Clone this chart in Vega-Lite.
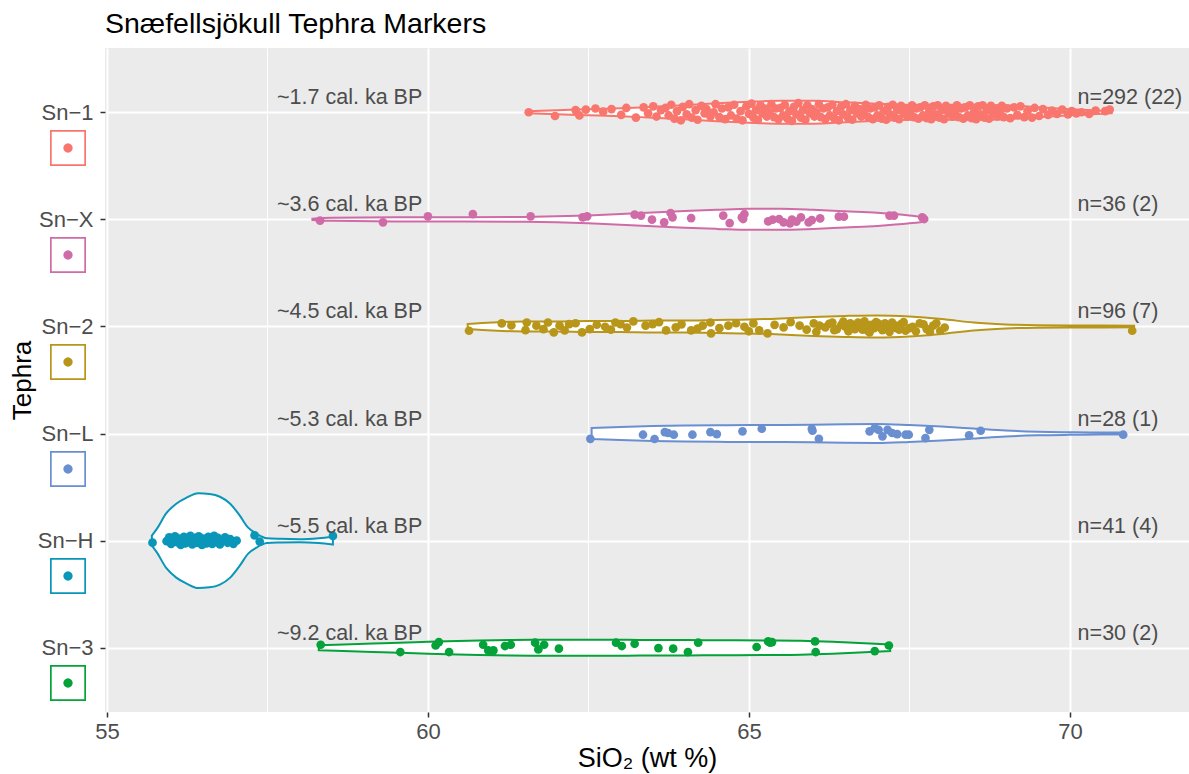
{
  "$schema": "https://vega.github.io/schema/vega-lite/v6.json",
  "width": 1084,
  "height": 664,
  "autosize": {"type": "none"},
  "padding": {"left": 105, "top": 48, "right": 0, "bottom": 62},
  "background": "white",
  "config": {
    "font": "Liberation Sans",
    "view": {"fill": "#EBEBEB", "stroke": null}
  },
  "title": {"text": "Snæfellsjökull Tephra Markers", "anchor": "start", "frame": "group", "fontSize": 28.5, "fontWeight": "normal", "color": "black", "offset": 10},
  "datasets": {
    "violin": [
      {"t":"Sn-1","x":61.55,"y":5.991,"hi":6.009},{"t":"Sn-1","x":62.0,"y":5.981,"hi":6.019},{"t":"Sn-1","x":62.5,"y":5.972,"hi":6.028},{"t":"Sn-1","x":63.0,"y":5.963,"hi":6.037},{"t":"Sn-1","x":63.5,"y":5.949,"hi":6.051},{"t":"Sn-1","x":64.0,"y":5.935,"hi":6.065},{"t":"Sn-1","x":64.5,"y":5.916,"hi":6.084},{"t":"Sn-1","x":65.0,"y":5.902,"hi":6.098},{"t":"Sn-1","x":65.5,"y":5.893,"hi":6.107},{"t":"Sn-1","x":66.0,"y":5.893,"hi":6.107},{"t":"Sn-1","x":66.5,"y":5.907,"hi":6.093},{"t":"Sn-1","x":67.0,"y":5.921,"hi":6.079},{"t":"Sn-1","x":67.5,"y":5.93,"hi":6.07},{"t":"Sn-1","x":68.0,"y":5.93,"hi":6.07},{"t":"Sn-1","x":68.5,"y":5.93,"hi":6.07},{"t":"Sn-1","x":69.0,"y":5.935,"hi":6.065},{"t":"Sn-1","x":69.5,"y":5.953,"hi":6.047},{"t":"Sn-1","x":70.0,"y":5.972,"hi":6.028},{"t":"Sn-1","x":70.5,"y":5.986,"hi":6.014},{"t":"Sn-1","x":70.65,"y":5.991,"hi":6.009},
      {"t":"Sn-X","x":58.2,"y":4.995,"hi":5.005},{"t":"Sn-X","x":58.5,"y":4.986,"hi":5.014},{"t":"Sn-X","x":59.5,"y":4.981,"hi":5.019},{"t":"Sn-X","x":60.5,"y":4.981,"hi":5.019},{"t":"Sn-X","x":61.5,"y":4.977,"hi":5.023},{"t":"Sn-X","x":62.0,"y":4.972,"hi":5.028},{"t":"Sn-X","x":62.5,"y":4.963,"hi":5.037},{"t":"Sn-X","x":63.0,"y":4.949,"hi":5.051},{"t":"Sn-X","x":63.5,"y":4.935,"hi":5.065},{"t":"Sn-X","x":64.0,"y":4.921,"hi":5.079},{"t":"Sn-X","x":64.5,"y":4.911,"hi":5.089},{"t":"Sn-X","x":65.0,"y":4.902,"hi":5.098},{"t":"Sn-X","x":65.5,"y":4.902,"hi":5.098},{"t":"Sn-X","x":66.0,"y":4.911,"hi":5.089},{"t":"Sn-X","x":66.5,"y":4.925,"hi":5.075},{"t":"Sn-X","x":67.0,"y":4.939,"hi":5.061},{"t":"Sn-X","x":67.5,"y":4.963,"hi":5.037},{"t":"Sn-X","x":67.75,"y":4.981,"hi":5.019},
      {"t":"Sn-2","x":60.62,"y":3.977,"hi":4.023},{"t":"Sn-2","x":61.0,"y":3.963,"hi":4.037},{"t":"Sn-2","x":61.5,"y":3.953,"hi":4.047},{"t":"Sn-2","x":62.0,"y":3.953,"hi":4.047},{"t":"Sn-2","x":62.5,"y":3.949,"hi":4.051},{"t":"Sn-2","x":63.0,"y":3.949,"hi":4.051},{"t":"Sn-2","x":63.5,"y":3.944,"hi":4.056},{"t":"Sn-2","x":64.0,"y":3.944,"hi":4.056},{"t":"Sn-2","x":64.5,"y":3.939,"hi":4.061},{"t":"Sn-2","x":65.0,"y":3.935,"hi":4.065},{"t":"Sn-2","x":65.5,"y":3.925,"hi":4.075},{"t":"Sn-2","x":66.0,"y":3.911,"hi":4.089},{"t":"Sn-2","x":66.5,"y":3.902,"hi":4.098},{"t":"Sn-2","x":67.0,"y":3.897,"hi":4.103},{"t":"Sn-2","x":67.5,"y":3.907,"hi":4.093},{"t":"Sn-2","x":68.0,"y":3.93,"hi":4.07},{"t":"Sn-2","x":68.5,"y":3.963,"hi":4.037},{"t":"Sn-2","x":69.0,"y":3.981,"hi":4.019},{"t":"Sn-2","x":69.5,"y":3.989,"hi":4.011},{"t":"Sn-2","x":70.0,"y":3.991,"hi":4.009},{"t":"Sn-2","x":70.5,"y":3.991,"hi":4.009},{"t":"Sn-2","x":71.0,"y":3.993,"hi":4.007},
      {"t":"Sn-L","x":62.55,"y":2.949,"hi":3.051},{"t":"Sn-L","x":63.0,"y":2.939,"hi":3.061},{"t":"Sn-L","x":63.5,"y":2.93,"hi":3.07},{"t":"Sn-L","x":64.0,"y":2.925,"hi":3.075},{"t":"Sn-L","x":64.5,"y":2.923,"hi":3.077},{"t":"Sn-L","x":65.0,"y":2.921,"hi":3.079},{"t":"Sn-L","x":65.5,"y":2.921,"hi":3.079},{"t":"Sn-L","x":66.0,"y":2.919,"hi":3.081},{"t":"Sn-L","x":66.5,"y":2.913,"hi":3.087},{"t":"Sn-L","x":67.0,"y":2.911,"hi":3.089},{"t":"Sn-L","x":67.5,"y":2.921,"hi":3.079},{"t":"Sn-L","x":68.0,"y":2.935,"hi":3.065},{"t":"Sn-L","x":68.5,"y":2.953,"hi":3.047},{"t":"Sn-L","x":69.0,"y":2.972,"hi":3.028},{"t":"Sn-L","x":69.5,"y":2.983,"hi":3.017},{"t":"Sn-L","x":70.0,"y":2.988,"hi":3.012},{"t":"Sn-L","x":70.5,"y":2.991,"hi":3.009},{"t":"Sn-L","x":70.85,"y":2.991,"hi":3.009},
      {"t":"Sn-H","x":55.7,"y":1.953,"hi":2.047},{"t":"Sn-H","x":55.78,"y":1.888,"hi":2.112},{"t":"Sn-H","x":55.92,"y":1.748,"hi":2.252},{"t":"Sn-H","x":56.08,"y":1.655,"hi":2.345},{"t":"Sn-H","x":56.24,"y":1.599,"hi":2.401},{"t":"Sn-H","x":56.42,"y":1.557,"hi":2.443},{"t":"Sn-H","x":56.6,"y":1.564,"hi":2.436},{"t":"Sn-H","x":56.76,"y":1.59,"hi":2.41},{"t":"Sn-H","x":56.92,"y":1.655,"hi":2.345},{"t":"Sn-H","x":57.07,"y":1.767,"hi":2.233},{"t":"Sn-H","x":57.2,"y":1.879,"hi":2.121},{"t":"Sn-H","x":57.33,"y":1.935,"hi":2.065},{"t":"Sn-H","x":57.49,"y":1.977,"hi":2.023},{"t":"Sn-H","x":57.7,"y":1.983,"hi":2.017},{"t":"Sn-H","x":58.0,"y":1.986,"hi":2.014},{"t":"Sn-H","x":58.3,"y":1.977,"hi":2.023},{"t":"Sn-H","x":58.52,"y":1.963,"hi":2.037},
      {"t":"Sn-3","x":58.3,"y":0.977,"hi":1.023},{"t":"Sn-3","x":58.8,"y":0.967,"hi":1.033},{"t":"Sn-3","x":59.3,"y":0.958,"hi":1.042},{"t":"Sn-3","x":59.8,"y":0.949,"hi":1.051},{"t":"Sn-3","x":60.3,"y":0.939,"hi":1.061},{"t":"Sn-3","x":60.8,"y":0.932,"hi":1.068},{"t":"Sn-3","x":61.3,"y":0.927,"hi":1.073},{"t":"Sn-3","x":61.8,"y":0.925,"hi":1.075},{"t":"Sn-3","x":62.3,"y":0.925,"hi":1.075},{"t":"Sn-3","x":62.8,"y":0.925,"hi":1.075},{"t":"Sn-3","x":63.3,"y":0.927,"hi":1.073},{"t":"Sn-3","x":63.8,"y":0.928,"hi":1.072},{"t":"Sn-3","x":64.3,"y":0.929,"hi":1.071},{"t":"Sn-3","x":64.8,"y":0.93,"hi":1.07},{"t":"Sn-3","x":65.3,"y":0.932,"hi":1.068},{"t":"Sn-3","x":65.8,"y":0.935,"hi":1.065},{"t":"Sn-3","x":66.3,"y":0.944,"hi":1.056},{"t":"Sn-3","x":66.8,"y":0.958,"hi":1.042},{"t":"Sn-3","x":67.2,"y":0.969,"hi":1.031}
    ],
    "pts": [
      {"t":"Sn-1","x":61.57,"y":6.0},{"t":"Sn-1","x":61.98,"y":5.965},{"t":"Sn-1","x":62.3,"y":6.02},{"t":"Sn-1","x":62.36,"y":5.97},{"t":"Sn-1","x":62.46,"y":6.025},{"t":"Sn-1","x":62.61,"y":6.035},{"t":"Sn-1","x":62.73,"y":6.005},{"t":"Sn-1","x":62.86,"y":6.03},{"t":"Sn-1","x":63.01,"y":5.975},{"t":"Sn-1","x":63.09,"y":6.04},{"t":"Sn-1","x":63.24,"y":5.95},{"t":"Sn-1","x":63.36,"y":6.045},{"t":"Sn-1","x":63.43,"y":5.99},{"t":"Sn-1","x":63.51,"y":6.055},{"t":"Sn-1","x":63.56,"y":5.96},{"t":"Sn-1","x":63.63,"y":6.02},
      {"t":"Sn-1","x":63.7,"y":6.04},{"t":"Sn-1","x":63.75,"y":5.97},{"t":"Sn-1","x":63.79,"y":6.07},{"t":"Sn-1","x":63.84,"y":5.94},{"t":"Sn-1","x":63.88,"y":6.01},{"t":"Sn-1","x":63.94,"y":5.925},{"t":"Sn-1","x":63.97,"y":6.05},{"t":"Sn-1","x":64.03,"y":5.98},{"t":"Sn-1","x":64.07,"y":6.075},{"t":"Sn-1","x":64.11,"y":5.95},{"t":"Sn-1","x":64.17,"y":6.02},{"t":"Sn-1","x":64.2,"y":5.93},{"t":"Sn-1","x":64.26,"y":6.06},{"t":"Sn-1","x":64.31,"y":5.99},{"t":"Sn-1","x":64.34,"y":6.03},{"t":"Sn-1","x":64.4,"y":5.96},{"t":"Sn-1","x":64.45,"y":6.0},{"t":"Sn-1","x":64.48,"y":6.075},{"t":"Sn-1","x":64.54,"y":5.955},{"t":"Sn-1","x":64.58,"y":6.035},{"t":"Sn-1","x":64.63,"y":5.935},{"t":"Sn-1","x":64.68,"y":6.045},{"t":"Sn-1","x":64.72,"y":5.97},{"t":"Sn-1","x":64.77,"y":6.07},{"t":"Sn-1","x":64.81,"y":5.94},{"t":"Sn-1","x":64.87,"y":6.01},{"t":"Sn-1","x":64.9,"y":5.925},{"t":"Sn-1","x":64.96,"y":6.055},
      {"t":"Sn-1","x":65.0,"y":5.985},{"t":"Sn-1","x":65.04,"y":6.08},{"t":"Sn-1","x":65.07,"y":5.95},{"t":"Sn-1","x":65.11,"y":6.02},{"t":"Sn-1","x":65.14,"y":5.93},{"t":"Sn-1","x":65.18,"y":6.065},{"t":"Sn-1","x":65.21,"y":5.99},{"t":"Sn-1","x":65.25,"y":6.035},{"t":"Sn-1","x":65.28,"y":5.96},{"t":"Sn-1","x":65.32,"y":6.0},{"t":"Sn-1","x":65.35,"y":6.075},{"t":"Sn-1","x":65.39,"y":5.955},{"t":"Sn-1","x":65.42,"y":6.035},{"t":"Sn-1","x":65.46,"y":5.935},{"t":"Sn-1","x":65.49,"y":6.04},{"t":"Sn-1","x":65.53,"y":5.97},{"t":"Sn-1","x":65.56,"y":6.07},{"t":"Sn-1","x":65.6,"y":5.94},{"t":"Sn-1","x":65.63,"y":6.01},{"t":"Sn-1","x":65.67,"y":5.92},{"t":"Sn-1","x":65.7,"y":6.05},{"t":"Sn-1","x":65.74,"y":5.98},{"t":"Sn-1","x":65.77,"y":6.085},{"t":"Sn-1","x":65.81,"y":5.95},{"t":"Sn-1","x":65.84,"y":6.02},{"t":"Sn-1","x":65.88,"y":5.93},{"t":"Sn-1","x":65.91,"y":6.065},{"t":"Sn-1","x":65.95,"y":5.99},{"t":"Sn-1","x":65.98,"y":6.03},{"t":"Sn-1","x":66.02,"y":5.96},{"t":"Sn-1","x":66.05,"y":6.0},{"t":"Sn-1","x":66.09,"y":6.075},{"t":"Sn-1","x":66.12,"y":5.955},{"t":"Sn-1","x":66.16,"y":6.035},{"t":"Sn-1","x":66.19,"y":5.935},{"t":"Sn-1","x":66.23,"y":6.045},{"t":"Sn-1","x":66.26,"y":5.97},{"t":"Sn-1","x":66.3,"y":6.07},{"t":"Sn-1","x":66.33,"y":5.94},{"t":"Sn-1","x":66.37,"y":6.01},{"t":"Sn-1","x":66.4,"y":5.925},{"t":"Sn-1","x":66.44,"y":6.055},{"t":"Sn-1","x":66.47,"y":5.98},{"t":"Sn-1","x":66.51,"y":6.075},{"t":"Sn-1","x":66.54,"y":5.95},{"t":"Sn-1","x":66.58,"y":6.02},{"t":"Sn-1","x":66.61,"y":5.93},{"t":"Sn-1","x":66.65,"y":6.06},{"t":"Sn-1","x":66.68,"y":5.99},{"t":"Sn-1","x":66.72,"y":6.03},{"t":"Sn-1","x":66.75,"y":5.96},{"t":"Sn-1","x":66.79,"y":6.0},{"t":"Sn-1","x":66.82,"y":6.07},{"t":"Sn-1","x":66.86,"y":5.955},{"t":"Sn-1","x":66.89,"y":6.035},{"t":"Sn-1","x":66.93,"y":5.935},{"t":"Sn-1","x":66.96,"y":6.045},
      {"t":"Sn-1","x":67.0,"y":5.97},{"t":"Sn-1","x":67.03,"y":6.065},{"t":"Sn-1","x":67.07,"y":5.94},{"t":"Sn-1","x":67.1,"y":6.01},{"t":"Sn-1","x":67.14,"y":5.93},{"t":"Sn-1","x":67.17,"y":6.05},{"t":"Sn-1","x":67.2,"y":5.98},{"t":"Sn-1","x":67.24,"y":6.07},{"t":"Sn-1","x":67.27,"y":5.95},{"t":"Sn-1","x":67.31,"y":6.02},{"t":"Sn-1","x":67.34,"y":5.935},{"t":"Sn-1","x":67.37,"y":6.06},{"t":"Sn-1","x":67.41,"y":5.99},{"t":"Sn-1","x":67.44,"y":6.03},{"t":"Sn-1","x":67.47,"y":5.96},{"t":"Sn-1","x":67.51,"y":6.0},{"t":"Sn-1","x":67.54,"y":6.065},{"t":"Sn-1","x":67.57,"y":5.955},{"t":"Sn-1","x":67.61,"y":6.035},{"t":"Sn-1","x":67.64,"y":5.94},{"t":"Sn-1","x":67.67,"y":6.045},{"t":"Sn-1","x":67.71,"y":5.97},{"t":"Sn-1","x":67.74,"y":6.065},{"t":"Sn-1","x":67.77,"y":5.945},{"t":"Sn-1","x":67.81,"y":6.01},{"t":"Sn-1","x":67.84,"y":5.935},{"t":"Sn-1","x":67.87,"y":6.055},{"t":"Sn-1","x":67.91,"y":5.98},{"t":"Sn-1","x":67.94,"y":6.065},{"t":"Sn-1","x":67.97,"y":5.95},{"t":"Sn-1","x":68.01,"y":6.02},{"t":"Sn-1","x":68.04,"y":5.935},{"t":"Sn-1","x":68.07,"y":6.06},{"t":"Sn-1","x":68.11,"y":5.99},{"t":"Sn-1","x":68.14,"y":6.03},{"t":"Sn-1","x":68.17,"y":5.96},{"t":"Sn-1","x":68.21,"y":6.0},{"t":"Sn-1","x":68.24,"y":6.065},{"t":"Sn-1","x":68.27,"y":5.955},{"t":"Sn-1","x":68.31,"y":6.035},{"t":"Sn-1","x":68.34,"y":5.94},{"t":"Sn-1","x":68.37,"y":6.045},{"t":"Sn-1","x":68.41,"y":5.97},{"t":"Sn-1","x":68.44,"y":6.065},{"t":"Sn-1","x":68.47,"y":5.945},{"t":"Sn-1","x":68.51,"y":6.01},{"t":"Sn-1","x":68.54,"y":5.935},{"t":"Sn-1","x":68.57,"y":6.055},{"t":"Sn-1","x":68.61,"y":5.98},{"t":"Sn-1","x":68.64,"y":6.065},{"t":"Sn-1","x":68.67,"y":5.95},{"t":"Sn-1","x":68.71,"y":6.02},{"t":"Sn-1","x":68.74,"y":5.94},{"t":"Sn-1","x":68.77,"y":6.06},{"t":"Sn-1","x":68.81,"y":5.99},{"t":"Sn-1","x":68.84,"y":6.03},{"t":"Sn-1","x":68.87,"y":5.96},{"t":"Sn-1","x":68.91,"y":6.0},{"t":"Sn-1","x":68.94,"y":6.06},{"t":"Sn-1","x":68.97,"y":5.955},
      {"t":"Sn-1","x":69.02,"y":6.035},{"t":"Sn-1","x":69.07,"y":5.945},{"t":"Sn-1","x":69.13,"y":6.045},{"t":"Sn-1","x":69.18,"y":5.975},{"t":"Sn-1","x":69.23,"y":6.055},{"t":"Sn-1","x":69.29,"y":5.955},{"t":"Sn-1","x":69.34,"y":6.01},{"t":"Sn-1","x":69.41,"y":5.95},{"t":"Sn-1","x":69.45,"y":6.04},{"t":"Sn-1","x":69.52,"y":5.965},{"t":"Sn-1","x":69.58,"y":6.03},{"t":"Sn-1","x":69.66,"y":5.975},{"t":"Sn-1","x":69.72,"y":6.015},{"t":"Sn-1","x":69.8,"y":5.985},{"t":"Sn-1","x":69.88,"y":6.025},{"t":"Sn-1","x":69.97,"y":5.98},{"t":"Sn-1","x":70.03,"y":6.01},{"t":"Sn-1","x":70.1,"y":5.99},{"t":"Sn-1","x":70.18,"y":6.0},{"t":"Sn-1","x":70.3,"y":5.985},{"t":"Sn-1","x":70.4,"y":6.015},{"t":"Sn-1","x":70.55,"y":6.01},{"t":"Sn-1","x":70.62,"y":6.025},
      {"t":"Sn-X","x":58.32,"y":4.988},{"t":"Sn-X","x":59.3,"y":4.972},{"t":"Sn-X","x":60.0,"y":5.028},{"t":"Sn-X","x":60.7,"y":5.049},{"t":"Sn-X","x":61.6,"y":5.028},{"t":"Sn-X","x":62.41,"y":5.019},{"t":"Sn-X","x":62.48,"y":5.028},{"t":"Sn-X","x":63.22,"y":5.044},{"t":"Sn-X","x":63.32,"y":5.035},{"t":"Sn-X","x":63.49,"y":4.997},{"t":"Sn-X","x":63.68,"y":4.972},{"t":"Sn-X","x":63.78,"y":5.059},{"t":"Sn-X","x":63.81,"y":5.019},{"t":"Sn-X","x":64.1,"y":5.012},{"t":"Sn-X","x":64.6,"y":5.035},{"t":"Sn-X","x":64.7,"y":4.965},{"t":"Sn-X","x":64.89,"y":5.019},{"t":"Sn-X","x":64.93,"y":5.049},{"t":"Sn-X","x":65.3,"y":4.981},{"t":"Sn-X","x":65.37,"y":4.997},{"t":"Sn-X","x":65.47,"y":5.003},{"t":"Sn-X","x":65.54,"y":4.972},{"t":"Sn-X","x":65.67,"y":4.997},{"t":"Sn-X","x":65.74,"y":4.979},{"t":"Sn-X","x":65.81,"y":5.019},{"t":"Sn-X","x":65.93,"y":4.972},{"t":"Sn-X","x":65.98,"y":4.993},{"t":"Sn-X","x":66.11,"y":5.009},{"t":"Sn-X","x":66.4,"y":5.025},{"t":"Sn-X","x":66.48,"y":5.025},{"t":"Sn-X","x":67.19,"y":5.035},{"t":"Sn-X","x":67.26,"y":5.035},{"t":"Sn-X","x":67.7,"y":5.019},{"t":"Sn-X","x":67.73,"y":5.003},{"t":"Sn-X","x":64.91,"y":5.003},{"t":"Sn-X","x":65.64,"y":4.963},
      {"t":"Sn-2","x":60.64,"y":3.96},{"t":"Sn-2","x":61.15,"y":4.028},{"t":"Sn-2","x":61.52,"y":3.965},{"t":"Sn-2","x":61.54,"y":4.037},{"t":"Sn-2","x":61.69,"y":4.007},{"t":"Sn-2","x":61.87,"y":4.037},{"t":"Sn-2","x":61.96,"y":3.944},{"t":"Sn-2","x":62.05,"y":4.007},{"t":"Sn-2","x":62.13,"y":3.963},{"t":"Sn-2","x":62.2,"y":4.021},{"t":"Sn-2","x":62.4,"y":3.944},{"t":"Sn-2","x":62.52,"y":3.975},{"t":"Sn-2","x":62.63,"y":4.016},{"t":"Sn-2","x":62.76,"y":3.997},{"t":"Sn-2","x":62.92,"y":4.037},{"t":"Sn-2","x":63.0,"y":4.021},{"t":"Sn-2","x":63.2,"y":4.047},{"t":"Sn-2","x":63.39,"y":4.007},{"t":"Sn-2","x":63.5,"y":4.021},{"t":"Sn-2","x":63.71,"y":3.963},{"t":"Sn-2","x":63.86,"y":3.991},{"t":"Sn-2","x":64.1,"y":3.963},{"t":"Sn-2","x":64.28,"y":4.007},{"t":"Sn-2","x":64.4,"y":4.037},{"t":"Sn-2","x":64.41,"y":3.935},{"t":"Sn-2","x":64.54,"y":3.984},{"t":"Sn-2","x":64.68,"y":4.007},{"t":"Sn-2","x":64.93,"y":3.997},{"t":"Sn-2","x":65.07,"y":4.028},{"t":"Sn-2","x":65.16,"y":3.963},{"t":"Sn-2","x":65.29,"y":3.935},{"t":"Sn-2","x":65.54,"y":3.991},{"t":"Sn-2","x":65.79,"y":4.007},{"t":"Sn-2","x":66.01,"y":4.028},{"t":"Sn-2","x":66.1,"y":4.007},{"t":"Sn-2","x":66.19,"y":3.991},{"t":"Sn-2","x":66.3,"y":4.037},{"t":"Sn-2","x":66.37,"y":3.975},{"t":"Sn-2","x":66.44,"y":4.016},{"t":"Sn-2","x":66.5,"y":3.997},{"t":"Sn-2","x":66.58,"y":4.028},{"t":"Sn-2","x":66.65,"y":3.975},{"t":"Sn-2","x":66.73,"y":4.007},{"t":"Sn-2","x":66.8,"y":4.047},{"t":"Sn-2","x":66.85,"y":3.96},{"t":"Sn-2","x":66.9,"y":4.016},{"t":"Sn-2","x":66.95,"y":3.984},{"t":"Sn-2","x":67.01,"y":4.028},{"t":"Sn-2","x":67.08,"y":3.965},{"t":"Sn-2","x":67.16,"y":4.007},{"t":"Sn-2","x":67.23,"y":4.037},{"t":"Sn-2","x":67.3,"y":3.984},{"t":"Sn-2","x":67.37,"y":4.021},{"t":"Sn-2","x":67.44,"y":3.96},{"t":"Sn-2","x":67.55,"y":3.997},{"t":"Sn-2","x":67.66,"y":4.028},{"t":"Sn-2","x":67.77,"y":3.975},{"t":"Sn-2","x":67.87,"y":4.007},{"t":"Sn-2","x":67.98,"y":3.96},{"t":"Sn-2","x":70.97,"y":3.96},
      {"t":"Sn-2","x":61.3,"y":4.01},{"t":"Sn-2","x":61.8,"y":3.975},{"t":"Sn-2","x":62.3,"y":4.03},{"t":"Sn-2","x":62.85,"y":3.97},{"t":"Sn-2","x":63.1,"y":3.99},{"t":"Sn-2","x":63.6,"y":4.04},{"t":"Sn-2","x":63.95,"y":4.02},{"t":"Sn-2","x":64.2,"y":3.98},{"t":"Sn-2","x":64.8,"y":4.03},{"t":"Sn-2","x":65.0,"y":3.955},{"t":"Sn-2","x":65.4,"y":4.015},{"t":"Sn-2","x":65.65,"y":4.04},{"t":"Sn-2","x":65.9,"y":3.97},{"t":"Sn-2","x":66.05,"y":3.95},{"t":"Sn-2","x":66.25,"y":4.025},{"t":"Sn-2","x":66.33,"y":3.965},{"t":"Sn-2","x":66.47,"y":4.045},{"t":"Sn-2","x":66.55,"y":3.955},{"t":"Sn-2","x":66.62,"y":4.005},{"t":"Sn-2","x":66.7,"y":4.035},{"t":"Sn-2","x":66.77,"y":3.97},{"t":"Sn-2","x":66.83,"y":4.01},{"t":"Sn-2","x":66.88,"y":3.945},{"t":"Sn-2","x":66.98,"y":4.04},{"t":"Sn-2","x":67.04,"y":3.99},{"t":"Sn-2","x":67.12,"y":4.03},{"t":"Sn-2","x":67.19,"y":3.95},{"t":"Sn-2","x":67.27,"y":4.01},{"t":"Sn-2","x":67.34,"y":3.97},{"t":"Sn-2","x":67.41,"y":4.04},{"t":"Sn-2","x":67.5,"y":3.985},{"t":"Sn-2","x":67.6,"y":3.955},{"t":"Sn-2","x":67.72,"y":4.02},{"t":"Sn-2","x":67.82,"y":3.95},{"t":"Sn-2","x":67.92,"y":4.03},{"t":"Sn-2","x":68.05,"y":3.99},
      {"t":"Sn-L","x":62.53,"y":2.951},{"t":"Sn-L","x":63.35,"y":2.989},{"t":"Sn-L","x":63.53,"y":2.949},{"t":"Sn-L","x":63.69,"y":3.014},{"t":"Sn-L","x":63.74,"y":3.005},{"t":"Sn-L","x":63.83,"y":2.989},{"t":"Sn-L","x":64.12,"y":2.989},{"t":"Sn-L","x":64.4,"y":3.014},{"t":"Sn-L","x":64.5,"y":2.995},{"t":"Sn-L","x":64.9,"y":3.021},{"t":"Sn-L","x":65.2,"y":3.045},{"t":"Sn-L","x":65.98,"y":3.045},{"t":"Sn-L","x":65.99,"y":3.026},{"t":"Sn-L","x":66.09,"y":2.951},{"t":"Sn-L","x":66.88,"y":3.021},{"t":"Sn-L","x":66.96,"y":3.051},{"t":"Sn-L","x":67.02,"y":3.035},{"t":"Sn-L","x":67.08,"y":2.974},{"t":"Sn-L","x":67.16,"y":3.035},{"t":"Sn-L","x":67.23,"y":3.005},{"t":"Sn-L","x":67.31,"y":2.995},{"t":"Sn-L","x":67.44,"y":2.989},{"t":"Sn-L","x":67.49,"y":2.989},{"t":"Sn-L","x":67.75,"y":2.958},{"t":"Sn-L","x":67.81,"y":3.035},{"t":"Sn-L","x":68.43,"y":2.983},{"t":"Sn-L","x":68.61,"y":3.026},{"t":"Sn-L","x":70.83,"y":2.989},
      {"t":"Sn-H","x":55.71,"y":1.981},{"t":"Sn-H","x":57.3,"y":2.049},{"t":"Sn-H","x":57.38,"y":1.991},{"t":"Sn-H","x":58.52,"y":2.044},{"t":"Sn-H","x":55.93,"y":1.995},{"t":"Sn-H","x":55.97,"y":2.03},{"t":"Sn-H","x":56.0,"y":1.97},{"t":"Sn-H","x":56.03,"y":2.01},{"t":"Sn-H","x":56.06,"y":2.04},{"t":"Sn-H","x":56.09,"y":1.985},{"t":"Sn-H","x":56.12,"y":2.02},{"t":"Sn-H","x":56.15,"y":1.96},{"t":"Sn-H","x":56.17,"y":2.0},{"t":"Sn-H","x":56.2,"y":2.035},{"t":"Sn-H","x":56.22,"y":1.975},{"t":"Sn-H","x":56.25,"y":2.015},{"t":"Sn-H","x":56.28,"y":1.99},{"t":"Sn-H","x":56.3,"y":2.045},{"t":"Sn-H","x":56.33,"y":1.965},{"t":"Sn-H","x":56.35,"y":2.005},{"t":"Sn-H","x":56.38,"y":2.025},{"t":"Sn-H","x":56.4,"y":1.98},{"t":"Sn-H","x":56.43,"y":2.04},{"t":"Sn-H","x":56.45,"y":1.995},{"t":"Sn-H","x":56.48,"y":1.96},{"t":"Sn-H","x":56.5,"y":2.02},{"t":"Sn-H","x":56.53,"y":2.0},{"t":"Sn-H","x":56.55,"y":1.975},{"t":"Sn-H","x":56.58,"y":2.035},{"t":"Sn-H","x":56.61,"y":2.01},{"t":"Sn-H","x":56.64,"y":1.97},{"t":"Sn-H","x":56.67,"y":2.045},{"t":"Sn-H","x":56.7,"y":1.99},{"t":"Sn-H","x":56.73,"y":2.025},{"t":"Sn-H","x":56.76,"y":1.965},{"t":"Sn-H","x":56.8,"y":2.005},{"t":"Sn-H","x":56.84,"y":2.03},{"t":"Sn-H","x":56.88,"y":1.98},{"t":"Sn-H","x":56.92,"y":2.015},{"t":"Sn-H","x":56.97,"y":1.97},{"t":"Sn-H","x":57.02,"y":2.0},
      {"t":"Sn-3","x":58.33,"y":1.028},{"t":"Sn-3","x":59.57,"y":0.96},{"t":"Sn-3","x":60.12,"y":1.021},{"t":"Sn-3","x":60.17,"y":1.053},{"t":"Sn-3","x":60.33,"y":0.96},{"t":"Sn-3","x":60.86,"y":1.028},{"t":"Sn-3","x":60.94,"y":0.975},{"t":"Sn-3","x":61.02,"y":0.975},{"t":"Sn-3","x":61.2,"y":1.016},{"t":"Sn-3","x":61.29,"y":1.028},{"t":"Sn-3","x":61.67,"y":1.047},{"t":"Sn-3","x":61.72,"y":0.984},{"t":"Sn-3","x":61.81,"y":1.028},{"t":"Sn-3","x":62.04,"y":0.991},{"t":"Sn-3","x":62.93,"y":1.047},{"t":"Sn-3","x":63.02,"y":1.016},{"t":"Sn-3","x":63.22,"y":1.037},{"t":"Sn-3","x":63.59,"y":0.997},{"t":"Sn-3","x":63.82,"y":0.991},{"t":"Sn-3","x":64.05,"y":0.96},{"t":"Sn-3","x":64.21,"y":1.047},{"t":"Sn-3","x":65.12,"y":1.007},{"t":"Sn-3","x":65.3,"y":1.059},{"t":"Sn-3","x":65.36,"y":1.053},{"t":"Sn-3","x":66.03,"y":1.059},{"t":"Sn-3","x":66.04,"y":0.96},{"t":"Sn-3","x":66.96,"y":0.969},{"t":"Sn-3","x":67.18,"y":1.021},{"t":"Sn-3","x":61.0,"y":0.963},{"t":"Sn-3","x":65.33,"y":1.047}
    ],
    "labels": [
      {"y":6,"age":"~1.7 cal. ka BP","n":"n=292 (22)"},
      {"y":5,"age":"~3.6 cal. ka BP","n":"n=36 (2)"},
      {"y":4,"age":"~4.5 cal. ka BP","n":"n=96 (7)"},
      {"y":3,"age":"~5.3 cal. ka BP","n":"n=28 (1)"},
      {"y":2,"age":"~5.5 cal. ka BP","n":"n=41 (4)"},
      {"y":1,"age":"~9.2 cal. ka BP","n":"n=30 (2)"}
    ]
  },
  "encoding": {
    "y": {
      "field": "y", "type": "quantitative", "title": "Tephra",
      "scale": {"domain": [0.4, 6.6], "nice": false, "zero": false},
      "axis": {
        "values": [1, 2, 3, 4, 5, 6],
        "labelExpr": "['', 'Sn−3', 'Sn−H', 'Sn−L', 'Sn−2', 'Sn−X', 'Sn−1'][datum.value]",
        "domain": false,
        "grid": true,
        "gridColor": "white",
        "gridOpacity": 1,
        "gridWidth": 2,
        "tickColor": "#333333",
        "tickWidth": 1.5,
        "tickSize": 5,
        "labelFontSize": 22,
        "labelColor": "#4D4D4D",
        "labelPadding": 7,
        "titleFontSize": 26,
        "titleFontWeight": "normal",
        "titleColor": "black",
        "titlePadding": 2
      }
    }
  },
  "layer": [
    {
      "data": {"name": "violin"},
      "mark": {"type": "area", "fill": "white", "strokeWidth": 2, "interpolate": "monotone", "fillOpacity": 1},
      "encoding": {
        "x": {
          "field": "x", "type": "quantitative", "title": "SiO₂ (wt %)",
          "scale": {"domain": [54.97, 71.855], "nice": false, "zero": false},
          "axis": {
            "values": [55, 57.5, 60, 62.5, 65, 67.5, 70],
            "labelExpr": "datum.value % 5 === 0 ? format(datum.value, 'd') : ''",
            "domain": false,
            "grid": true,
            "gridColor": "white",
            "gridOpacity": 1,
            "gridWidth": {"condition": {"test": "datum.value % 5 === 0", "value": 2}, "value": 1},
            "tickColor": "#333333",
            "tickWidth": 1.5,
            "tickSize": 5,
            "tickOpacity": {"condition": {"test": "datum.value % 5 !== 0", "value": 0}, "value": 1},
            "labelFontSize": 22,
            "labelColor": "#4D4D4D",
            "labelPadding": 4,
            "titleFontSize": 27,
            "titleFontWeight": "normal",
            "titleColor": "black",
            "titlePadding": 3
          }
        },
        "y2": {"field": "hi"},
        "stroke": {
          "field": "t", "type": "nominal",
          "scale": {"domain": ["Sn-1", "Sn-X", "Sn-2", "Sn-L", "Sn-H", "Sn-3"], "range": ["#F8766D", "#CF6CA7", "#B8961A", "#6A8FD1", "#0996B9", "#05A139"]},
          "legend": {
            "orient": "none", "legendX": -55, "legendY": 82, "direction": "vertical",
            "title": null, "padding": 0,
            "symbolType": "M-1,-1L1,-1L1,1L-1,1Z M-0.905,-0.905L-0.905,0.905L0.905,0.905L0.905,-0.905Z M0.26,0L0.24,0.1L0.184,0.184L0.1,0.24L0,0.26L-0.1,0.24L-0.184,0.184L-0.24,0.1L-0.26,0L-0.24,-0.1L-0.184,-0.184L-0.1,-0.24L0,-0.26L0.1,-0.24L0.184,-0.184L0.24,-0.1Z",
            "symbolSize": 1296, "symbolStrokeWidth": 0, "symbolOpacity": 1,
            "labelExpr": "''", "rowPadding": 71
          }
        }
      }
    },
    {
      "data": {"name": "pts"},
      "mark": {"type": "circle", "size": 76, "opacity": 1},
      "encoding": {
        "x": {"field": "x", "type": "quantitative", "title": "SiO₂ (wt %)"},
        "color": {
          "field": "t", "type": "nominal",
          "scale": {"domain": ["Sn-1", "Sn-X", "Sn-2", "Sn-L", "Sn-H", "Sn-3"], "range": ["#F8766D", "#CF6CA7", "#B8961A", "#6A8FD1", "#0996B9", "#05A139"]},
          "legend": {
            "orient": "none", "legendX": -55, "legendY": 82, "direction": "vertical",
            "title": null, "padding": 0,
            "symbolType": "M-1,-1L1,-1L1,1L-1,1Z M-0.905,-0.905L-0.905,0.905L0.905,0.905L0.905,-0.905Z M0.26,0L0.24,0.1L0.184,0.184L0.1,0.24L0,0.26L-0.1,0.24L-0.184,0.184L-0.24,0.1L-0.26,0L-0.24,-0.1L-0.184,-0.184L-0.1,-0.24L0,-0.26L0.1,-0.24L0.184,-0.184L0.24,-0.1Z",
            "symbolSize": 1296, "symbolStrokeWidth": 0, "symbolOpacity": 1,
            "labelExpr": "''", "rowPadding": 71
          }
        }
      }
    },
    {
      "data": {"name": "labels"},
      "mark": {"type": "text", "align": "left", "baseline": "alphabetic", "dy": -8, "fontSize": 21.5, "color": "#4D4D4D"},
      "encoding": {"x": {"datum": 57.65, "type": "quantitative", "title": "SiO₂ (wt %)"}, "text": {"field": "age"}}
    },
    {
      "data": {"name": "labels"},
      "mark": {"type": "text", "align": "left", "baseline": "alphabetic", "dy": -8, "fontSize": 21.5, "color": "#4D4D4D"},
      "encoding": {"x": {"datum": 70.12, "type": "quantitative", "title": "SiO₂ (wt %)"}, "text": {"field": "n"}}
    }
  ]
}
